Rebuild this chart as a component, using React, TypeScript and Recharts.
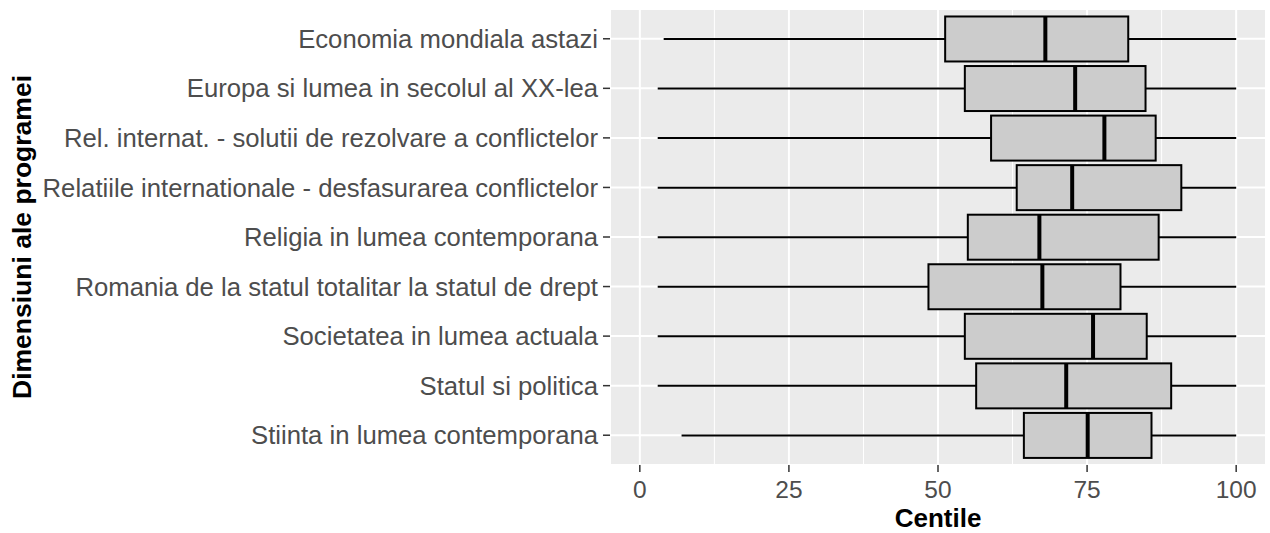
import { ComposedChart, Bar, XAxis, YAxis, CartesianGrid } from "recharts";

// dimensiuni ale programei, in order from top to bottom
const categories = [
  "Economia mondiala astazi",
  "Europa si lumea in secolul al XX-lea",
  "Rel. internat. - solutii de rezolvare a conflictelor",
  "Relatiile internationale - desfasurarea conflictelor",
  "Religia in lumea contemporana",
  "Romania de la statul totalitar la statul de drept",
  "Societatea in lumea actuala",
  "Statul si politica",
  "Stiinta in lumea contemporana",
];

const lowerWhisker = [4, 3, 3, 3, 3, 3, 3, 3, 7];
const quartile1 = [51.2, 54.5, 58.9, 63.2, 55, 48.4, 54.5, 56.4, 64.4];
const medians = [68, 73, 77.9, 72.5, 67, 67.5, 76, 71.5, 75.1];
const quartile3 = [81.9, 84.8, 86.5, 90.8, 87, 80.6, 85, 89.1, 85.8];
const upperWhisker = [100, 100, 100, 100, 100, 100, 100, 100, 100];

const majorTicks = [0, 25, 50, 75, 100];
const minorTicks = [12.5, 37.5, 62.5, 87.5];

const data = categories.map((name, i) => ({
  name,
  min: lowerWhisker[i],
  q1: quartile1[i],
  median: medians[i],
  q3: quartile3[i],
  max: upperWhisker[i],
}));

const FONT = '"Liberation Sans", Arial, sans-serif';

// draws whisker + box + median inside the [min, max] range bar
function BoxShape(props: any) {
  const { x, y, width, height, payload } = props;
  if (payload == null || width == null) return null;
  const { min, q1, median, q3, max } = payload;
  const px = (v: number) => x + ((v - min) / (max - min)) * width;
  const cy = y + height / 2;
  const left = px(q1);
  const right = px(q3);
  return (
    <g>
      <line x1={px(min)} x2={px(max)} y1={cy} y2={cy} stroke="#000" strokeWidth={2} />
      <rect
        x={Math.min(left, right)}
        y={y}
        width={Math.abs(right - left)}
        height={height}
        fill="#CCCCCC"
        stroke="#000"
        strokeWidth={2}
      />
      <line x1={px(median)} x2={px(median)} y1={y} y2={y + height} stroke="#000" strokeWidth={4} />
    </g>
  );
}

export default function App() {
  return (
    <div style={{ position: "absolute", left: 0, top: 0, fontFamily: FONT }}>
      <ComposedChart
        width={1270}
        height={533}
        data={data}
        layout="vertical"
        margin={{ top: 9, right: 4, bottom: 0, left: 0 }}
        barCategoryGap="5%"
      >
        <CartesianGrid fill="#EBEBEB" stroke="#FFFFFF" strokeWidth={2} />
        <CartesianGrid xAxisId="minor" horizontal={false} stroke="#FFFFFF" strokeWidth={1} />
        <XAxis
          type="number"
          domain={[-5, 105]}
          allowDataOverflow
          ticks={majorTicks}
          height={68}
          axisLine={false}
          tickSize={7}
          tickMargin={9}
          tickLine={{ stroke: "#333333", strokeWidth: 1.5 }}
          tick={{ fill: "#4D4D4D", fontSize: 24.5, fontFamily: FONT }}
          label={{
            content: ({ viewBox }: any) => (
              <text
                x={viewBox.x + viewBox.width / 2}
                y={viewBox.y + 62}
                textAnchor="middle"
                fontSize={26}
                fontWeight="bold"
                fontFamily={FONT}
                fill="#000"
              >
                Centile
              </text>
            ),
          }}
        />
        <XAxis xAxisId="minor" type="number" domain={[-5, 105]} allowDataOverflow ticks={minorTicks} hide />
        <YAxis
          type="category"
          dataKey="name"
          width={610}
          padding={{ top: 5, bottom: 5 }}
          axisLine={false}
          tickSize={7}
          tickMargin={5}
          interval={0}
          tickLine={{ stroke: "#333333", strokeWidth: 1.5 }}
          tick={{ fill: "#4D4D4D", fontSize: 25.7, fontFamily: FONT }}
          label={{
            content: ({ viewBox }: any) => {
              const cx = viewBox.x + 31;
              const cy = viewBox.y + viewBox.height / 2;
              return (
                <text
                  x={cx}
                  y={cy}
                  transform={`rotate(-90, ${cx}, ${cy})`}
                  textAnchor="middle"
                  fontSize={26.5}
                  fontWeight="bold"
                  fontFamily={FONT}
                  fill="#000"
                >
                  Dimensiuni ale programei
                </text>
              );
            },
          }}
        />
        <Bar
          dataKey={(d: any) => [d.min, d.max]}
          shape={BoxShape}
          isAnimationActive={false}
        />
      </ComposedChart>
    </div>
  );
}
